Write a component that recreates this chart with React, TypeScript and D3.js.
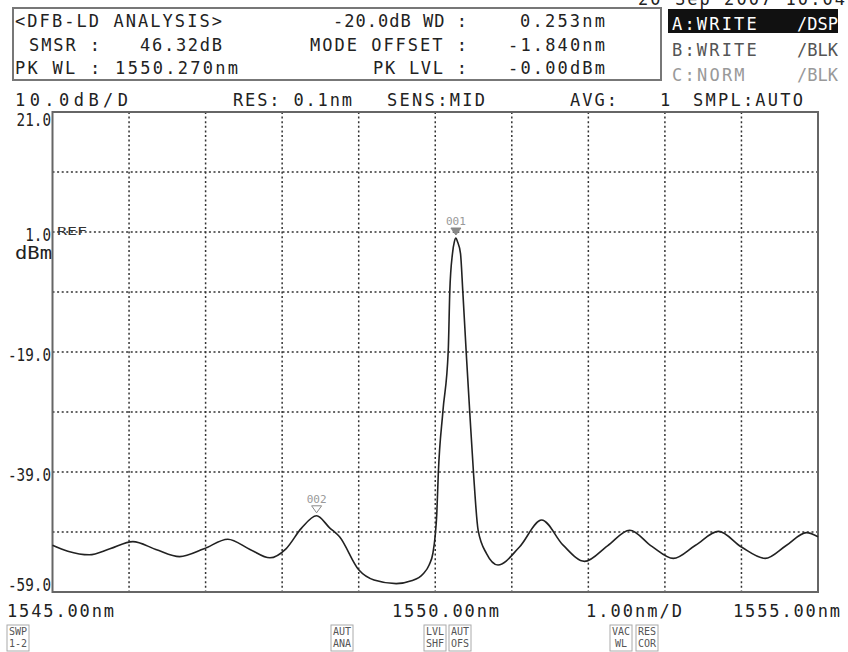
import React from "react";
import * as d3 from "d3";

// Trace sample points: wavelength (nm) and level (dBm)
const wavelengths = [
  1545.0, 1545.2, 1545.48, 1545.75, 1546.05, 1546.35, 1546.66, 1546.98, 1547.29, 1547.58,
  1547.84, 1548.05, 1548.25, 1548.45, 1548.62, 1548.75, 1549.0, 1549.2, 1549.49, 1549.7,
  1549.84, 1549.92, 1549.97, 1550.0, 1550.02, 1550.04, 1550.1, 1550.17, 1550.19, 1550.225,
  1550.25, 1550.27, 1550.29, 1550.33, 1550.36, 1550.41, 1550.45, 1550.5, 1550.56, 1550.67,
  1550.82, 1551.1, 1551.39, 1551.67, 1551.95, 1552.25, 1552.54, 1552.83, 1553.11, 1553.4,
  1553.7, 1554.0, 1554.31, 1554.58, 1554.85, 1555.0,
];
const levels = [
  -51.2, -52.2, -52.8, -51.8, -50.6, -51.9, -53.1, -51.8, -50.2, -51.9,
  -53.3, -51.8, -48.4, -46.3, -48.3, -49.8, -55.3, -57.0, -57.6, -57.1,
  -56.0, -54.5, -52.5, -49.5, -46.0, -39.2, -28.9, -18.7, -8.9, -2.6,
  -0.6, 0.0, -0.6, -2.6, -8.9, -20.3, -28.9, -39.2, -48.7, -52.6,
  -54.5, -51.5, -47.0, -51.2, -53.9, -51.3, -48.7, -51.4, -53.4, -51.2,
  -48.9, -51.5, -53.4, -51.3, -49.1, -49.8,
];

// Axis ranges and labels
const wlRange = [1545, 1555];
const levelRange = [-59, 21];
const wlGrid = d3.range(1546, 1555, 1);
const levelGrid = d3.range(11, -59, -10);
const levelTicks = [21, 1, -19, -39, -59];
const levelTickLabels = ["21.0", "1.0", "-19.0", "-39.0", "-59.0"];

// Markers: index into trace arrays
const markerIds = ["001", "002"];
const markerIndex = [31, 13];

// Header readouts
const analysisTitle = "<DFB-LD ANALYSIS>";
const smsrLabel = "SMSR :";
const smsrValue = "46.32dB";
const pkWl = "PK WL : 1550.270nm";
const wdLabel = "-20.0dB WD :";
const wdValue = "0.253nm";
const offsetLabel = "MODE OFFSET :";
const offsetValue = "-1.840nm";
const pkLvlLabel = "PK LVL :";
const pkLvlValue = "-0.00dBm";
const traceStates = [
  ["A:WRITE", "/DSP"],
  ["B:WRITE", "/BLK"],
  ["C:NORM", "/BLK"],
];
const buttons = [
  ["SWP", "1-2"],
  ["AUT", "ANA"],
  ["LVL", "SHF"],
  ["AUT", "OFS"],
  ["VAC", "WL"],
  ["RES", "COR"],
];
const buttonX = [7, 331, 424, 449, 610, 636];

const FONT = "'DejaVu Sans Mono', 'Liberation Mono', monospace";
const INK = "#222";

export default function App() {
  const left = 52.5, right = 818, top = 112, bottom = 592;
  const x = d3.scaleLinear().domain(wlRange).range([left, right]);
  const y = d3.scaleLinear().domain(levelRange).range([bottom, top]);

  const line = d3
    .line<number>()
    .x((_, i) => x(wavelengths[i]))
    .y((d) => y(d))
    .curve(d3.curveMonotoneX);

  const txt = (
    s: string,
    tx: number,
    ty: number,
    opts: { w?: number; anchor?: string; fill?: string; size?: number; squeeze?: boolean } = {}
  ) => (
    <text
      x={tx}
      y={ty}
      fontFamily={FONT}
      fontSize={opts.size ?? 17}
      fill={opts.fill ?? INK}
      textAnchor={opts.anchor ?? "start"}
      {...(opts.w ? { textLength: opts.w, lengthAdjust: opts.squeeze ? "spacingAndGlyphs" : "spacing" } : {})}
    >
      {s}
    </text>
  );

  return (
    <svg
      width={848}
      height={652}
      style={{ position: "absolute", left: 0, top: 0, background: "#fff" }}
    >
      <rect x={0} y={0} width={848} height={652} fill="#fff" />

      {/* date stamp along the top edge */}
      {txt("20 Sep 2007 10:04", 638, 5, { w: 207 })}

      {/* analysis readout box */}
      <rect x={13} y={8} width={648} height={72} fill="none" stroke="#777" strokeWidth={2} />
      {txt(analysisTitle, 15, 27, { w: 207 })}
      {txt(smsrLabel, 29, 51, { w: 71 })}
      {txt(smsrValue, 140, 51, { w: 82 })}
      {txt(pkWl, 15, 74, { w: 223 })}
      {txt(wdLabel, 333, 27, { w: 134 })}
      {txt(wdValue, 520, 27, { w: 85 })}
      {txt(offsetLabel, 310, 51, { w: 157 })}
      {txt(offsetValue, 508, 51, { w: 97 })}
      {txt(pkLvlLabel, 373, 74, { w: 94 })}
      {txt(pkLvlValue, 508, 74, { w: 97 })}

      {/* trace state panel */}
      <rect x={668} y={9} width={170} height={24} fill="#111" />
      {traceStates.map((s, i) => {
        const fill = i === 0 ? "#fff" : i === 1 ? "#555" : "#999";
        const by = 30 + i * 25.5;
        return (
          <g key={s[0]}>
            {txt(s[0], 672, by, { w: s[0].length * 12.1, fill })}
            {txt(s[1], 838, by, { anchor: "end", fill })}
          </g>
        );
      })}

      {/* settings row */}
      {txt("10.0dB/D", 15, 106, { w: 113 })}
      {txt("RES: 0.1nm", 233, 106, { w: 119 })}
      {txt("SENS:MID", 387, 106, { w: 98 })}
      {txt("AVG:", 570, 106, { w: 47 })}
      {txt("1", 660, 106)}
      {txt("SMPL:AUTO", 693, 106, { w: 110 })}

      {/* grid */}
      {wlGrid.map((w) => (
        <line
          key={"v" + w}
          x1={x(w)}
          x2={x(w)}
          y1={top}
          y2={bottom}
          stroke="#333"
          strokeWidth={1.5}
          strokeDasharray="2 2.6"
        />
      ))}
      {levelGrid.map((l) => (
        <line
          key={"h" + l}
          x1={left}
          x2={right}
          y1={y(l)}
          y2={y(l)}
          stroke="#333"
          strokeWidth={1.5}
          strokeDasharray="2 2.6"
        />
      ))}

      {/* frame */}
      <rect
        x={left}
        y={top}
        width={right - left}
        height={bottom - top}
        fill="none"
        stroke="#666"
        strokeWidth={2}
      />

      {/* level labels */}
      {levelTicks.map((l, i) => {
        const s = levelTickLabels[i];
        const by = i === 0 ? y(l) + 14 : i === levelTicks.length - 1 ? y(l) - 1 : y(l) + 9;
        return (
          <g key={"t" + l}>{txt(s, 51, by, { anchor: "end", w: s.length * 8.6, squeeze: true })}</g>
        );
      })}
      {txt("dBm", 52, 259, { anchor: "end", w: 37, squeeze: true })}
      {txt("REF", 57, y(1) + 3, { size: 10, fill: "#333", w: 30, squeeze: true })}

      {/* trace */}
      <path d={line(levels) ?? ""} fill="none" stroke={INK} strokeWidth={1.6} />

      {/* peak markers */}
      {markerIds.map((id, i) => {
        const k = markerIndex[i];
        const mx = x(wavelengths[k]);
        const my = y(levels[k]);
        const filled = i === 0;
        return (
          <g key={id}>
            <path
              d={`M${mx - 5},${my - 10} L${mx + 5},${my - 10} L${mx},${my - 3} Z`}
              fill={filled ? "#888" : "#fff"}
              stroke="#888"
              strokeWidth={1}
            />
            {txt(id, mx, my - 13, { anchor: "middle", size: 11, fill: "#999" })}
          </g>
        );
      })}

      {/* wavelength labels */}
      {txt("1545.00nm", 7, 617, { w: 107 })}
      {txt("1550.00nm", 392, 617, { w: 107 })}
      {txt("1.00nm/D", 586, 617, { w: 96 })}
      {txt("1555.00nm", 733, 617, { w: 107 })}

      {/* soft keys */}
      {buttons.map((b, i) => (
        <g key={b.join("") + i}>
          <rect x={buttonX[i]} y={625} width={22} height={26} fill="none" stroke="#aaa" strokeWidth={1} />
          {txt(b[0], buttonX[i] + 11, 635, { anchor: "middle", size: 10, fill: "#555" })}
          {txt(b[1], buttonX[i] + 11, 647, { anchor: "middle", size: 10, fill: "#555" })}
        </g>
      ))}
    </svg>
  );
}
